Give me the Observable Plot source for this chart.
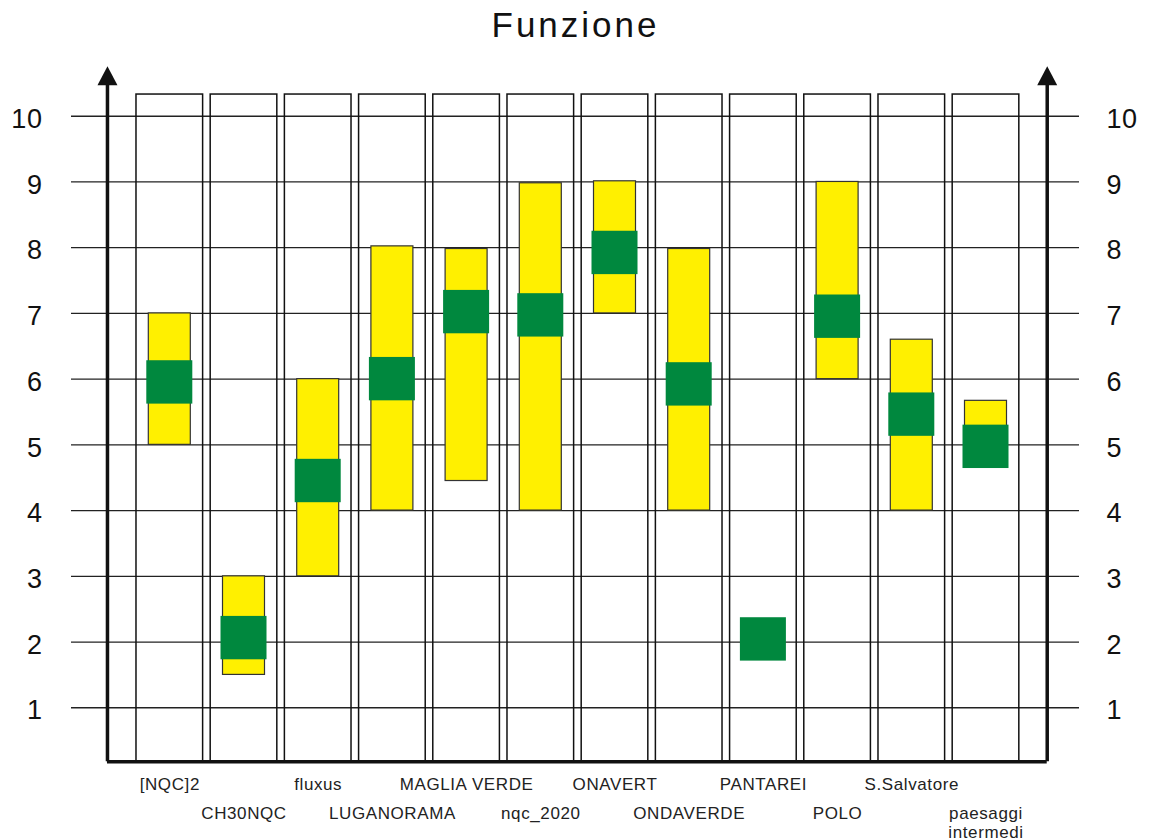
<!DOCTYPE html>
<html>
<head>
<meta charset="utf-8">
<script src="https://cdn.jsdelivr.net/npm/d3@7"></script>
<script src="https://cdn.jsdelivr.net/npm/@observablehq/plot@0.6"></script>
<style>
  html, body { margin: 0; padding: 0; background: #fff; }
  #title { height: 50px; line-height: 50px; text-align: center; font-family: "Liberation Sans", Arial, sans-serif; font-size: 35px; letter-spacing: 3px; color: #111; }
</style>
</head>
<body>
<div id="title">Funzione</div>
<div id="chart"></div>
<script>
// ---- data ----
const names = ["[NQC]2", "CH30NQC", "fluxus", "LUGANORAMA", "MAGLIA VERDE", "nqc_2020", "ONAVERT", "ONDAVERDE", "PANTAREI", "POLO", "S.Salvatore", "paesaggi\nintermedi"];
const lows    = [5,    1.5,  3,    4,    4.45, 4,    7,    4,    null, 6,    4,    4.7];
const highs   = [7,    3,    6,    8.02, 7.98, 8.98, 9.01, 7.98, null, 9,    6.6,  5.67];
const medians = [5.95, 2.06, 4.45, 6.0,  7.02, 6.97, 7.92, 5.92, 2.04, 6.95, 5.46, 4.97];
const yTicks  = [1, 2, 3, 4, 5, 6, 7, 8, 9, 10];

const rows = names.map((name, i) => ({name, i, lo: lows[i], hi: highs[i], med: medians[i]}));

// ---- layout (in scale units) ----
const colHalf = 0.449, yelHalf = 0.283, grnHalf = 0.31, grnHalfH = 0.33;
const colBottom = 0.18, colTop = 10.33;
const axisLeft = -0.84, axisRight = 11.825, arrowBase = 10.47;

const arrowHead = {
  draw(ctx) {
    ctx.moveTo(0, -19);
    ctx.lineTo(10, 0);
    ctx.lineTo(-10, 0);
    ctx.closePath();
  }
};

const chart = Plot.plot({
  width: 1151,
  height: 790,
  marginTop: 0,
  marginBottom: 67,
  marginLeft: 71,
  marginRight: 72,
  style: {fontFamily: "'Liberation Sans', Arial, sans-serif", letterSpacing: "0.6px", background: "#fff", overflow: "visible"},
  x: {type: "linear", domain: [-1.3248, 12.2601], axis: null},
  y: {domain: [0, 11], axis: null},
  marks: [
    Plot.ruleY(yTicks, {stroke: "#222", strokeWidth: 1.3}),
    Plot.rect(rows, {x1: d => d.i - colHalf, x2: d => d.i + colHalf, y1: colBottom, y2: colTop, fill: "none", stroke: "#111", strokeWidth: 1.5}),
    Plot.rect(rows.filter(d => d.lo != null), {x1: d => d.i - yelHalf, x2: d => d.i + yelHalf, y1: "lo", y2: "hi", fill: "#fff000", stroke: "#333", strokeWidth: 1.2}),
    Plot.rect(rows, {x1: d => d.i - grnHalf, x2: d => d.i + grnHalf, y1: d => d.med - grnHalfH, y2: d => d.med + grnHalfH, fill: "#00883e"}),
    Plot.ruleY([colBottom], {x1: axisLeft, x2: axisRight, stroke: "#111", strokeWidth: 3.5}),
    Plot.ruleX([axisLeft, axisRight], {y1: colBottom, y2: arrowBase, stroke: "#111", strokeWidth: 3.5}),
    Plot.dot([axisLeft, axisRight], {x: d => d, y: arrowBase, symbol: arrowHead, fill: "#111", stroke: null, r: 10}),
    Plot.axisY(yTicks, {anchor: "left", tickSize: 0, tickPadding: 29, fontSize: 27, dy: 3, label: null, color: "#111", tickFormat: d => String(d)}),
    Plot.axisY(yTicks, {anchor: "right", tickSize: 0, tickPadding: 27, fontSize: 27, dy: 3, label: null, color: "#111", tickFormat: d => String(d)}),
    Plot.text(rows.filter(d => d.i % 2 === 0), {x: "i", text: "name", frameAnchor: "bottom", lineAnchor: "top", dy: 3, fontSize: 17, fill: "#222", lineHeight: 1.12}),
    Plot.text(rows.filter(d => d.i % 2 === 1), {x: "i", text: "name", frameAnchor: "bottom", lineAnchor: "top", dy: 32, fontSize: 17, fill: "#222", lineHeight: 1.12})
  ]
});
document.getElementById("chart").appendChild(chart);
</script>
</body>
</html>
